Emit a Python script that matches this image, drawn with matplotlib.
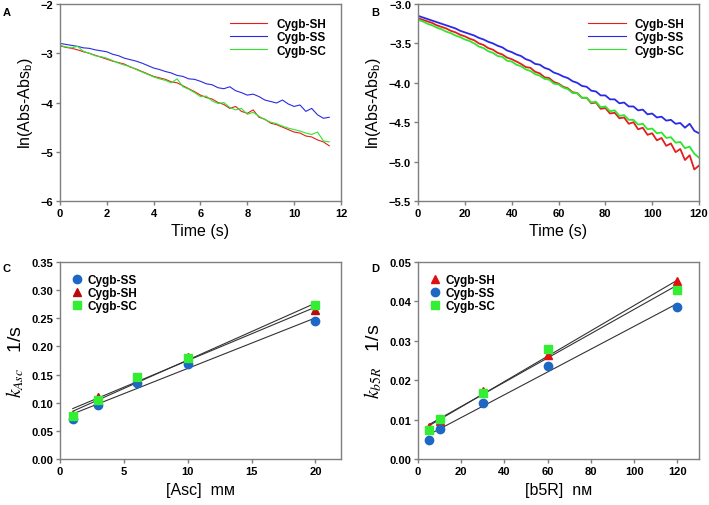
import numpy as np
import matplotlib
matplotlib.use("Agg")
import matplotlib.pyplot as plt

plt.rcParams['font.family'] = ['Liberation Sans', 'DejaVu Sans']
plt.rcParams['mathtext.fontset'] = 'stix'

# ---- panel A: ln(Abs-Abs_b) vs time, short run ----
time_a = np.arange(0, 11.51, 0.25)
a_sh = [-2.85, -2.88, -2.90, -2.93, -2.97, -3.00, -3.04, -3.08, -3.12, -3.16,
        -3.19, -3.22, -3.28, -3.32, -3.37, -3.42, -3.47, -3.50, -3.53, -3.58,
        -3.60, -3.66, -3.72, -3.78, -3.85, -3.90, -3.93, -4.00, -4.04, -4.12,
        -4.08, -4.18, -4.22, -4.15, -4.30, -4.34, -4.42, -4.45, -4.50, -4.55,
        -4.60, -4.62, -4.68, -4.70, -4.76, -4.80, -4.88]
a_ss = [-2.80, -2.82, -2.84, -2.86, -2.89, -2.90, -2.93, -2.95, -2.97, -3.02,
        -3.05, -3.10, -3.13, -3.16, -3.20, -3.25, -3.30, -3.33, -3.37, -3.40,
        -3.45, -3.47, -3.52, -3.53, -3.57, -3.62, -3.64, -3.70, -3.72, -3.68,
        -3.76, -3.80, -3.85, -3.83, -3.88, -3.95, -3.98, -4.01, -3.95, -4.03,
        -4.08, -4.05, -4.18, -4.12, -4.25, -4.32, -4.30]
a_sc = [-2.84, -2.87, -2.89, -2.86, -2.96, -3.00, -3.05, -3.07, -3.10, -3.15,
        -3.20, -3.24, -3.27, -3.33, -3.38, -3.43, -3.48, -3.52, -3.55, -3.60,
        -3.52, -3.68, -3.73, -3.80, -3.88, -3.87, -3.97, -4.02, -4.00, -4.10,
        -4.15, -4.12, -4.24, -4.20, -4.28, -4.35, -4.40, -4.43, -4.48, -4.52,
        -4.55, -4.58, -4.62, -4.65, -4.60, -4.78, -4.80]

# ---- panel B: ln(Abs-Abs_b) vs time, long run ----
time_b = np.arange(0, 121, 2)
b_sh = [-3.18, -3.20, -3.22, -3.24, -3.27, -3.29, -3.31, -3.34, -3.36, -3.39,
        -3.41, -3.44, -3.46, -3.50, -3.52, -3.56, -3.58, -3.62, -3.64, -3.68,
        -3.70, -3.73, -3.76, -3.80, -3.81, -3.86, -3.88, -3.93, -3.94, -3.99,
        -4.01, -4.05, -4.07, -4.12, -4.13, -4.19, -4.19, -4.26, -4.25, -4.33,
        -4.32, -4.39, -4.38, -4.45, -4.44, -4.52, -4.50, -4.59, -4.57, -4.66,
        -4.64, -4.73, -4.70, -4.80, -4.77, -4.88, -4.84, -4.98, -4.92, -5.10,
        -5.05]
b_ss = [-3.15, -3.17, -3.19, -3.21, -3.23, -3.25, -3.27, -3.29, -3.31, -3.34,
        -3.36, -3.38, -3.40, -3.43, -3.45, -3.48, -3.50, -3.53, -3.55, -3.59,
        -3.61, -3.64, -3.66, -3.70, -3.72, -3.76, -3.77, -3.81, -3.83, -3.87,
        -3.89, -3.92, -3.94, -3.98, -4.00, -4.04, -4.05, -4.10, -4.11, -4.16,
        -4.16, -4.21, -4.21, -4.26, -4.25, -4.30, -4.30, -4.35, -4.34, -4.40,
        -4.39, -4.44, -4.43, -4.48, -4.47, -4.52, -4.51, -4.57, -4.52, -4.61,
        -4.64]
b_sc = [-3.20, -3.22, -3.25, -3.27, -3.30, -3.32, -3.35, -3.37, -3.40, -3.42,
        -3.45, -3.47, -3.50, -3.54, -3.56, -3.60, -3.62, -3.66, -3.67, -3.72,
        -3.73, -3.77, -3.79, -3.83, -3.85, -3.89, -3.91, -3.95, -3.96, -4.01,
        -4.02, -4.06, -4.08, -4.13, -4.13, -4.19, -4.19, -4.25, -4.24, -4.31,
        -4.30, -4.36, -4.35, -4.42, -4.41, -4.47, -4.47, -4.53, -4.52, -4.59,
        -4.58, -4.64, -4.63, -4.70, -4.69, -4.76, -4.75, -4.83, -4.81, -4.90,
        -4.95]

# ---- panel C: k_Asc vs [Asc] ----
asc = [1, 3, 6, 10, 20]
c_ss = [0.071, 0.096, 0.135, 0.168, 0.245]
c_sh = [0.078, 0.110, 0.146, 0.182, 0.264]
c_sc = [0.077, 0.104, 0.145, 0.179, 0.273]

# ---- panel D: k_b5R vs [b5R] ----
b5r = [5, 10, 30, 60, 120]
d_sh = [0.0080, 0.0096, 0.0173, 0.0264, 0.0451]
d_ss = [0.0048, 0.0077, 0.0141, 0.0236, 0.0386]
d_sc = [0.0073, 0.0102, 0.0168, 0.0279, 0.0430]

RED = '#e41e1e'
BLUE = '#2a2ae6'
GREEN = '#2ee62e'
DOT_BLUE = '#1c68c4'
DARK_RED = '#b80c0c'
LIME = '#33ee33'
SPINE = '#7f7f7f'


def style(ax):
    for s in ax.spines.values():
        s.set_color(SPINE)
        s.set_linewidth(1.0)
    ax.tick_params(direction='out', length=3, width=1, color=SPINE,
                   labelsize=8, pad=2)
    for lab in ax.get_xticklabels() + ax.get_yticklabels():
        lab.set_fontweight('bold')


def minus(fmt):
    return lambda v, p: (fmt % v).replace('-', '\u2212')


fig = plt.figure(figsize=(7.09, 5.06), dpi=100)
w, h = 0.3963, 0.3893
axA = fig.add_axes([0.0846, 0.6008, w, h])
axB = fig.add_axes([0.5896, 0.6008, w, h])
axC = fig.add_axes([0.0846, 0.0909, w, h])
axD = fig.add_axes([0.5896, 0.0909, w, h])

leg_line = dict(frameon=False, prop={'weight': 'bold', 'size': 8.5},
                handlelength=3.2, labelspacing=0.1, borderaxespad=0.8)
leg_mark = dict(frameon=False, prop={'weight': 'bold', 'size': 8.5},
                handlelength=0.8, handletextpad=0.5, labelspacing=0.1,
                borderaxespad=0.6)

# A
axA.plot(time_a, a_sh, color=RED, lw=0.8, label='Cygb-SH')
axA.plot(time_a, a_ss, color=BLUE, lw=0.8, label='Cygb-SS')
axA.plot(time_a, a_sc, color=GREEN, lw=0.8, label='Cygb-SC')
axA.set_xlim(0, 12)
axA.set_ylim(-6, -2)
axA.set_xticks(range(0, 13, 2))
axA.set_yticks(range(-6, -1))
axA.yaxis.set_major_formatter(plt.FuncFormatter(minus('%d')))
axA.set_xlabel('Time (s)', fontsize=11.5)
axA.set_ylabel(r'ln(Abs-Abs$_\mathregular{b}$)', fontsize=11.5)
axA.legend(loc='upper right', **leg_line)

# B
axB.plot(time_b, b_sh, color=RED, lw=1.3, label='Cygb-SH')
axB.plot(time_b, b_ss, color=BLUE, lw=1.3, label='Cygb-SS')
axB.plot(time_b, b_sc, color=GREEN, lw=1.3, label='Cygb-SC')
axB.set_xlim(0, 120)
axB.set_ylim(-5.5, -3.0)
axB.set_xticks(range(0, 121, 20))
axB.set_yticks(np.arange(-5.5, -2.99, 0.5))
axB.yaxis.set_major_formatter(plt.FuncFormatter(minus('%.1f')))
axB.set_xlabel('Time (s)', fontsize=11.5)
axB.set_ylabel(r'ln(Abs-Abs$_\mathregular{b}$)', fontsize=11.5)
lg = axB.legend(loc='upper right', **leg_line)
for ln in lg.get_lines():
    ln.set_linewidth(0.8)

# C
for y in (c_ss, c_sh, c_sc):
    k, b = np.polyfit(asc, y, 1)
    axC.plot([asc[0], asc[-1]], [k * asc[0] + b, k * asc[-1] + b],
             color='#333333', lw=0.8, zorder=2)
axC.plot(asc, c_ss, 'o', color=DOT_BLUE, ms=6, ls='none', label='Cygb-SS', zorder=3)
axC.plot(asc, c_sh, '^', color=DARK_RED, ms=5.5, ls='none', label='Cygb-SH', zorder=3)
axC.plot(asc, c_sc, 's', color=LIME, ms=5.5, ls='none', label='Cygb-SC', zorder=4)
axC.set_xlim(0, 22)
axC.set_ylim(0, 0.35)
axC.set_xticks(range(0, 21, 5))
axC.set_yticks(np.arange(0, 0.351, 0.05))
axC.yaxis.set_major_formatter(plt.FormatStrFormatter('%.2f'))
axC.set_xlabel('[Asc]  m\u1d0d', fontsize=11.5)
axC.set_ylabel(r'$k_{Asc}$   1/s', fontsize=14)
axC.legend(loc='upper left', **leg_mark)

# D
for y in (d_sh, d_ss, d_sc):
    k, b = np.polyfit(b5r, y, 1)
    axD.plot([b5r[0], b5r[-1]], [k * b5r[0] + b, k * b5r[-1] + b],
             color='#333333', lw=0.8, zorder=2)
axD.plot(b5r, d_sh, '^', color='#e01010', ms=5.5, ls='none', label='Cygb-SH', zorder=3)
axD.plot(b5r, d_ss, 'o', color=DOT_BLUE, ms=6, ls='none', label='Cygb-SS', zorder=3)
axD.plot(b5r, d_sc, 's', color=LIME, ms=5.5, ls='none', label='Cygb-SC', zorder=4)
axD.set_xlim(0, 130)
axD.set_ylim(0, 0.05)
axD.set_xticks(range(0, 121, 20))
axD.set_yticks(np.arange(0, 0.0501, 0.01))
axD.yaxis.set_major_formatter(plt.FormatStrFormatter('%.2f'))
axD.set_xlabel('[b5R]  n\u1d0d', fontsize=11.5)
axD.set_ylabel(r'$k_{b5R}$   1/s', fontsize=14)
axD.legend(loc='upper left', **leg_mark)

for ax in (axA, axB, axC, axD):
    style(ax)

for x, y, s in [(0.004, 0.985, 'A'), (0.523, 0.985, 'B'),
                (0.004, 0.478, 'C'), (0.523, 0.478, 'D')]:
    fig.text(x, y, s, fontsize=8, fontweight='bold', va='top')

fig.savefig('out.png', dpi=100)
